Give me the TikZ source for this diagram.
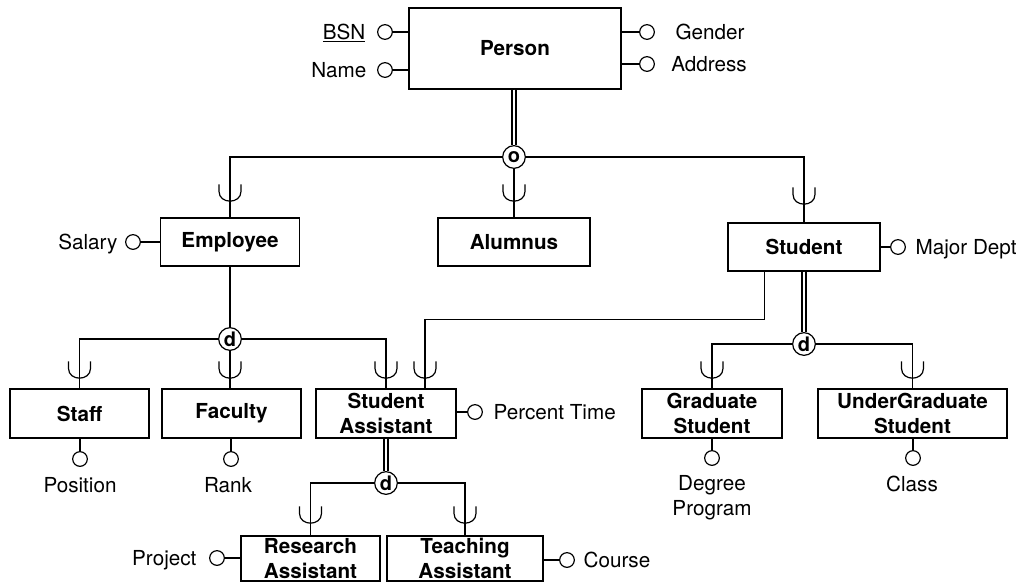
\documentclass[tikz,border=0pt]{standalone}
\usepackage{fontspec}
\setmainfont{TeX Gyre Heros}
\usetikzlibrary{calc}

\begin{document}
\begin{tikzpicture}[
  x=0.75pt, y=-0.75pt,
  line width=0.9pt,
  font=\fontsize{15.5}{18.75}\selectfont,
  entity/.style={
    draw,
    fill=white,
    align=center,
    inner sep=0pt,
    font=\fontsize{15.5}{18.75}\selectfont\bfseries
  },
  attr/.style={draw, circle, fill=white, minimum size=11pt, inner sep=0pt},
  atxt/.style={inner sep=0pt, text height=11pt, text depth=0pt},
  spec/.style={
    draw,
    circle,
    fill=white,
    minimum size=17pt,
    inner sep=0pt,
    font=\fontsize{15}{15}\selectfont\bfseries
  },
  dbl/.style={double, double distance=2pt},
  incl/.pic={\draw (-11,0) -- (-11,7) .. controls (-11,20) and (11,20) .. (11,7) -- (11,0);}
]

\useasboundingbox (0,0) rectangle (1022,583);

\node[entity, minimum width=159pt, minimum height=60.75pt] (person) at (515,48.5) {Person};
\node[entity, minimum width=104.25pt, minimum height=36pt] (employee) at (230,242) {Employee};
\node[entity, minimum width=114pt, minimum height=36pt] (alumnus) at (514,242) {Alumnus};
\node[entity, minimum width=114pt, minimum height=36pt] (student) at (804,247) {Student};
\node[entity, minimum width=104.25pt, minimum height=36.75pt] (staff) at (79.5,413.5) {Staff};
\node[entity, minimum width=104.25pt, minimum height=36.75pt] (faculty) at (231.5,413.5) {Faculty};
\node[entity, minimum width=105pt, minimum height=36.75pt] (stuasst) at (386,413.5) {Student\\Assistant};
\node[entity, minimum width=105pt, minimum height=36.75pt] (grad) at (712,413.5) {Graduate\\Student};
\node[entity, minimum width=141.75pt, minimum height=36.75pt] (ugrad) at (912.5,413.5) {UnderGraduate\\Student};
\node[entity, minimum width=104.25pt, minimum height=33.75pt] (resasst) at (310.5,558.5) {Research\\Assistant};
\node[entity, minimum width=117pt, minimum height=33.75pt] (teachasst) at (465,558.5) {Teaching\\Assistant};

\node[spec] (isa) at (514,157) {o};
\node[spec] (djob) at (230,339) {d};
\node[spec] (dstu) at (804,344) {d};
\node[spec] (dasst) at (386,483) {d};

\node[attr] (bsn) at (385,32) {};
\node[atxt, anchor=east] (bsnlbl) at (366,32) {\underline{BSN}};
\node[attr] (name) at (385,70) {};
\node[atxt, anchor=east] (namelbl) at (367,70) {Name};
\node[attr] (gender) at (647,32) {};
\node[atxt] (genderlbl) at (710,32) {Gender};
\node[attr] (address) at (647,64) {};
\node[atxt] (addresslbl) at (709,64) {Address};
\node[attr] (salary) at (133,242) {};
\node[atxt, anchor=east] (salarylbl) at (118,242) {Salary};
\node[attr] (major) at (898,247) {};
\node[atxt, anchor=west] (majorlbl) at (915,247) {Major Dept};
\node[attr] (pct) at (475,412) {};
\node[atxt, anchor=west] (pctlbl) at (493,412) {Percent Time};
\node[attr] (position) at (80,459) {};
\node[atxt] (positionlbl) at (80,485) {Position};
\node[attr] (rank) at (231,459) {};
\node[atxt] (ranklbl) at (228,485) {Rank};
\node[attr] (degree) at (712,458) {};
\node[inner sep=0pt, align=center] (degreelbl) at (712,498) {Degree\\Program};
\node[attr] (class) at (913,458) {};
\node[atxt] (classlbl) at (912,484) {Class};
\node[attr] (project) at (217,558) {};
\node[atxt, anchor=east] (projectlbl) at (197,558) {Project};
\node[attr] (course) at (567,560) {};
\node[atxt, anchor=west] (courselbl) at (583,560) {Course};

\draw (bsn) -- (bsn -| person.west);
\draw (name) -- (name -| person.west);
\draw (gender) -- (gender -| person.east);
\draw (address) -- (address -| person.east);
\draw (salary) -- (salary -| employee.west);
\draw (major) -- (major -| student.east);
\draw (pct) -- (pct -| stuasst.east);
\draw (position) -- (position |- staff.south);
\draw (rank) -- (rank |- faculty.south);
\draw (degree) -- (degree |- grad.south);
\draw (class) -- (class |- ugrad.south);
\draw (project) -- (project -| resasst.west);
\draw (course) -- (course -| teachasst.east);

\draw[dbl] (person.south -| isa) -- (isa);
\draw (isa) -| (employee);
\draw (isa) -- (alumnus);
\draw (isa) -| (student);
\pic at ($(employee.north)+(0,-33)$) {incl};
\pic at ($(alumnus.north)+(0,-33)$) {incl};
\pic at ($(student.north)+(0,-35)$) {incl};

\draw (employee) -- (djob);
\draw (djob) -| (staff);
\draw (djob) -- (djob |- faculty.north);
\draw (djob) -| (stuasst);
\coordinate (stuout) at ($(student.south west)+(37,0)$);
\coordinate (sain) at ($(stuasst.north)+(39,0)$);
\draw (stuout) -- ++(0,48) -| (sain);
\pic at ($(staff.north)+(0,-27)$) {incl};
\pic at ($(faculty.north -| djob)+(0,-27)$) {incl};
\pic at ($(stuasst.north)+(0,-27)$) {incl};
\pic at ($(sain)+(0,-27)$) {incl};

\draw[dbl] (student) -- (dstu);
\draw (dstu) -| (grad);
\draw (dstu) -| (ugrad);
\pic at ($(grad.north)+(0,-27)$) {incl};
\pic at ($(ugrad.north)+(0,-27)$) {incl};

\draw[dbl] (stuasst) -- (dasst);
\draw (dasst) -| (resasst);
\draw (dasst) -| (teachasst);
\pic at ($(resasst.north)+(0,-29)$) {incl};
\pic at ($(teachasst.north)+(0,-29)$) {incl};

\end{tikzpicture}
\end{document}
